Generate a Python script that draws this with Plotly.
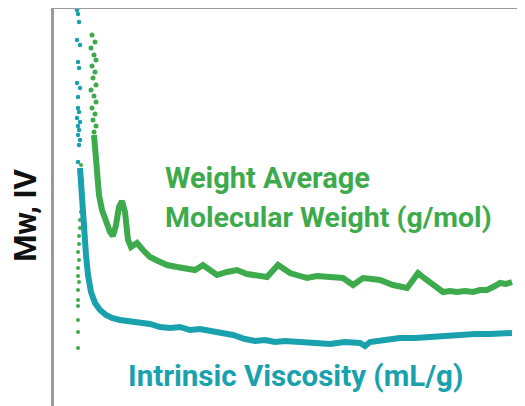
import plotly.graph_objects as go

# ---- data (x: elution position, y: detector response) ----
iv_dots_x = [77, 78, 79, 77, 80, 78, 79, 77, 80, 78, 78, 79, 77, 80, 78, 79, 78, 80, 79, 78]
iv_dots_y = [396, 392, 384, 366, 361, 344, 338, 323, 318, 309, 298, 294, 288, 284, 280, 276, 271, 266, 261, 244]

iv_x = [80, 81, 82, 84, 86, 88, 91, 95, 100, 106, 112, 120, 130, 140, 150, 160, 170, 180, 190, 200,
        210, 220, 233, 245, 255, 265, 275, 285, 300, 315, 330, 345, 360, 365, 370, 385, 400, 415, 430,
        445, 460, 475, 490, 500, 512]
iv_y = [238, 221, 206, 176, 151, 131, 114, 103, 96, 91, 88, 86, 85, 83, 82, 79, 78, 79, 76, 77,
        75, 73, 71, 67, 65, 66, 64, 65, 64, 63, 62, 64, 63, 60, 64, 66, 68, 68, 69,
        71, 71, 72, 72, 72, 73]

mw_dots_top_x = [92, 95, 91, 94, 96, 92, 95, 93, 96, 91, 94, 96, 92, 95, 93, 96, 94]
mw_dots_top_y = [371, 364, 358, 351, 346, 340, 334, 328, 321, 316, 310, 304, 298, 292, 286, 280, 274]

mw_dots_low_x = [81, 81, 82, 82, 81, 82, 81, 80, 80, 79, 79, 78, 79, 78, 78, 79, 78, 78, 78, 78, 78, 78]
mw_dots_low_y = [241, 234, 226, 218, 210, 202, 194, 186, 178, 170, 162, 154, 146, 138, 130, 124, 116, 106, 100, 86, 74, 58]

mw_x = [94, 95, 96, 97, 99, 102, 106, 110, 113, 116, 119, 122, 125, 128, 131, 137, 143, 150, 158, 167,
        177, 187, 195, 203, 210, 217, 227, 237, 247, 257, 267, 278, 285, 290, 300, 307, 317, 327, 335,
        343, 353, 363, 372, 380, 393, 407, 413, 418, 424, 430, 437, 443, 450, 457, 465, 473, 480, 487,
        495, 500, 506, 512]
mw_y = [271, 256, 241, 226, 211, 196, 184, 174, 170, 181, 199, 205, 194, 166, 159, 163, 156, 149, 145, 141,
        139, 138, 136, 141, 136, 131, 134, 136, 132, 131, 129, 141, 136, 133, 130, 128, 130, 129, 129,
        128, 121, 128, 127, 126, 121, 118, 126, 133, 128, 124, 118, 114, 115, 114, 115, 114, 116, 116,
        120, 123, 122, 124]

GREEN = "#3dab4b"
TEAL = "#19a1ad"
FONT = "Roboto"

fig = go.Figure()
fig.add_trace(go.Scatter(x=mw_dots_low_x, y=mw_dots_low_y, mode="markers",
                         marker=dict(color=GREEN, size=4), hoverinfo="skip"))
fig.add_trace(go.Scatter(x=mw_dots_top_x, y=mw_dots_top_y, mode="markers",
                         marker=dict(color=GREEN, size=5), hoverinfo="skip"))
fig.add_trace(go.Scatter(x=mw_x, y=mw_y, mode="lines",
                         line=dict(color=GREEN, width=6), hoverinfo="skip"))
fig.add_trace(go.Scatter(x=iv_dots_x, y=iv_dots_y, mode="markers",
                         marker=dict(color=TEAL, size=4.5), hoverinfo="skip"))
fig.add_trace(go.Scatter(x=iv_x, y=iv_y, mode="lines",
                         line=dict(color=TEAL, width=6), hoverinfo="skip"))

fig.add_annotation(x=163, y=228, text="<b>Weight Average</b>", showarrow=False,
                   xanchor="left", yanchor="middle", font=dict(family=FONT, size=29, color=GREEN))
fig.add_annotation(x=163, y=189, text="<b>Molecular Weight (g/mol)</b>", showarrow=False,
                   xanchor="left", yanchor="middle", font=dict(family=FONT, size=28.5, color=GREEN))
fig.add_annotation(x=126, y=30, text="<b>Intrinsic Viscosity (mL/g)</b>", showarrow=False,
                   xanchor="left", yanchor="middle", font=dict(family=FONT, size=29.5, color=TEAL))
fig.add_annotation(xref="paper", yref="paper", x=-0.062, y=0.481, text="<b>Mw, IV</b>",
                   textangle=-90, showarrow=False, xanchor="center", yanchor="middle",
                   font=dict(family=FONT, size=31, color="#111111"))

fig.update_layout(
    width=517, height=398,
    margin=dict(l=46, r=0, t=1, b=0),
    plot_bgcolor="white", paper_bgcolor="white",
    showlegend=False,
    xaxis=dict(range=[54, 525], side="top", showline=True, linecolor="#9a9a9a", linewidth=3,
               showgrid=False, zeroline=False, showticklabels=False, ticks=""),
    yaxis=dict(range=[0, 397], showline=True, linecolor="#9a9a9a", linewidth=3,
               showgrid=False, zeroline=False, showticklabels=False, ticks=""),
)
fig.write_html("out.html")
